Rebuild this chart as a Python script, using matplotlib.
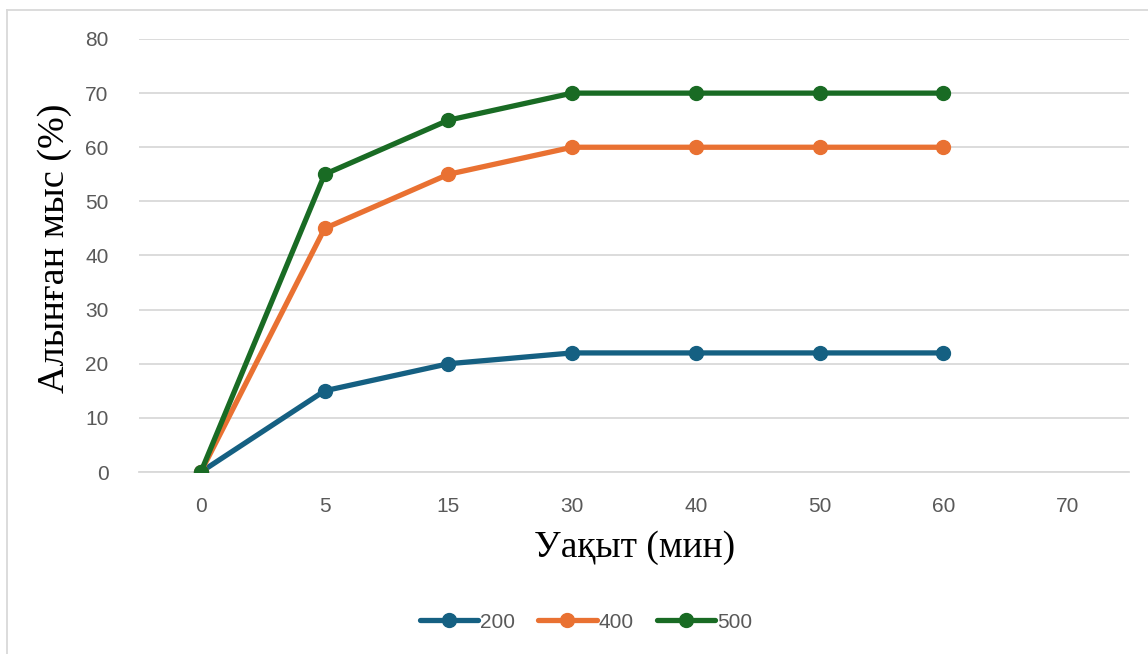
import matplotlib
matplotlib.use("Agg")
import matplotlib.pyplot as plt
from matplotlib.lines import Line2D

categories = ["0", "5", "15", "30", "40", "50", "60", "70"]
series_names = ["200", "400", "500"]
s200 = [0, 15, 20, 22, 22, 22, 22]
s400 = [0, 45, 55, 60, 60, 60, 60]
s500 = [0, 55, 65, 70, 70, 70, 70]
colors = ["#156082", "#E97132", "#196B24"]
yticks = [0, 10, 20, 30, 40, 50, 60, 70, 80]

W, H = 1148, 654
fig = plt.figure(figsize=(W / 100, H / 100), dpi=100)
ax = fig.add_axes([139 / W, 1 - 472 / H, (1129 - 139) / W, (472 - 39) / H])

tick_font = "Liberation Sans"
xs = list(range(len(categories)))
for name, vals, c in zip(series_names, [s200, s400, s500], colors):
    ax.plot(xs[:len(vals)], vals, color=c, lw=3.8, marker="o", ms=10,
            solid_capstyle="round", label=name, zorder=3)

ax.set_xlim(-0.5, len(categories) - 0.5)
ax.set_ylim(0, 80)
ax.set_xticks(xs)
ax.set_xticklabels(categories)
ax.set_yticks(yticks)
ax.grid(axis="y", color="#d9d9d9", lw=1.3, zorder=0)
ax.set_axisbelow(True)
for s in ax.spines.values():
    s.set_visible(False)
ax.spines["bottom"].set_visible(True)
ax.spines["bottom"].set_color("#d9d9d9")
ax.spines["bottom"].set_linewidth(1.3)
ax.tick_params(length=0, labelsize=15, labelcolor="#595959")
for lbl in ax.get_xticklabels() + ax.get_yticklabels():
    lbl.set_fontfamily(tick_font)
ax.tick_params(axis="y", pad=22)
ax.tick_params(axis="x", pad=18)

fig.text(635 / W, 1 - 548 / H, "Уақыт (мин)", ha="center", va="center",
         fontsize=27, family="Liberation Serif", color="black")
fig.text(55 / W, 1 - 248 / H, "Алынған мыс (%)", ha="center", va="center",
         fontsize=27.5, family="Liberation Serif", rotation=90, color="black")

leg = fig.legend(loc="center", bbox_to_anchor=(586 / W, 1 - 622 / H), ncol=3,
                 frameon=False, handlelength=2.8, handletextpad=0.1,
                 columnspacing=1.1, prop={"family": tick_font, "size": 15})
for t in leg.get_texts():
    t.set_color("#595959")

# chart border (top and left visible)
fig.add_artist(Line2D([7 / W, 1], [1 - 10 / H, 1 - 10 / H], color="#d9d9d9", lw=1.3,
                      transform=fig.transFigure))
fig.add_artist(Line2D([7 / W, 7 / W], [1 - 10 / H, 0], color="#d9d9d9", lw=1.3,
                      transform=fig.transFigure))

fig.savefig("out.png", dpi=100)
